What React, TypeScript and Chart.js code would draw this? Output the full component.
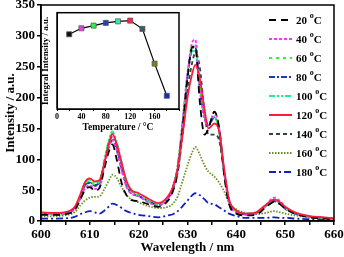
import { useEffect, useRef } from 'react';
import { Chart, registerables } from 'chart.js';
Chart.register(...registerables);

const FONT = '"Liberation Serif", "Times New Roman", serif';

const WAVELENGTH = [600, 603, 606, 607, 608, 609, 610, 611, 612, 613, 614, 614.6, 615.5, 616.5, 617.5, 618.5, 620, 622, 624, 626, 627, 628, 629, 630, 631, 631.6, 632.5, 633.5, 634.3, 635.5, 636.5, 637.5, 638.5, 640, 642, 644, 646, 647.8, 649, 650, 652, 655, 658, 660];

const S20 = [10, 10, 13, 19, 34, 50, 55, 49, 54, 86, 115, 124, 100, 62, 42, 34, 32, 27, 23, 33, 48, 80, 150, 232, 282, 283, 195, 140, 150, 177, 150, 75, 28, 12, 9, 10, 22, 31, 27, 20, 12, 6, 4, 3];
const S40 = [11, 10, 14, 20, 35, 53, 58, 52, 55, 90, 122, 132, 115, 82, 55, 44, 40, 30, 25, 36, 52, 88, 160, 240, 290, 294, 215, 165, 155, 176, 150, 80, 30, 14, 10, 12, 26, 38, 32, 23, 13, 7, 5, 4];
const S60 = [12, 11, 15, 22, 38, 60, 64, 59, 64, 98, 132, 141, 125, 92, 62, 47, 41, 32, 26, 37, 54, 90, 162, 240, 285, 286, 220, 168, 155, 170, 145, 78, 32, 15, 11, 12, 24, 34, 28, 21, 12, 7, 5, 4];
const S80 = [12, 11, 15, 22, 38, 58, 63, 58, 63, 97, 128, 136, 120, 88, 60, 46, 41, 32, 26, 37, 54, 88, 158, 235, 280, 282, 215, 168, 155, 168, 145, 78, 32, 15, 11, 12, 24, 33, 28, 21, 12, 7, 5, 4];
const S100 = [13, 12, 16, 23, 40, 62, 67, 62, 67, 100, 135, 145, 128, 96, 64, 49, 42, 33, 27, 38, 55, 90, 160, 235, 275, 276, 215, 170, 158, 168, 145, 80, 33, 16, 12, 13, 25, 34, 28, 21, 12, 7, 5, 4];
const S120 = [14, 13, 17, 24, 42, 63, 69, 64, 66, 95, 128, 141, 125, 95, 65, 50, 45, 36, 29, 40, 55, 85, 140, 200, 240, 253, 232, 180, 150, 158, 145, 85, 35, 17, 12, 14, 26, 35, 30, 23, 14, 8, 6, 4];
const S140 = [12, 11, 15, 21, 37, 57, 62, 57, 61, 93, 123, 130, 115, 85, 57, 45, 40, 32, 26, 36, 50, 80, 140, 212, 258, 272, 250, 175, 140, 140, 130, 80, 35, 16, 12, 13, 24, 32, 27, 20, 12, 7, 5, 4];
const S160 = [7, 8, 11, 15, 25, 33, 38, 39, 40, 52, 67, 75, 70, 55, 42, 35, 30, 24, 21, 23, 28, 40, 65, 90, 112, 120, 108, 90, 80, 72, 62, 48, 30, 19, 13, 11, 13, 16, 14, 12, 9, 6, 4, 3];
const S180 = [4, 4, 5, 7, 11, 14, 16, 14, 12, 17, 24, 28, 26, 21, 16, 13, 10, 8, 6, 9, 11, 16, 24, 33, 42, 45, 42, 35, 29, 27, 22, 17, 12, 8, 5, 5, 5, 6, 5, 5, 4, 3, 3, 2];

const SERIES_LABELS = ['20', '40', '60', '80', '100', '120', '140', '160', '180'];
const SERIES_VALUES = [S20, S40, S60, S80, S100, S120, S140, S160, S180];
const SERIES_COLORS = ['#000000', '#ff33ff', '#22ff22', '#1a3ac0', '#22ee88', '#ff1a3c', '#2f4050', '#6b8e23', '#1020c0'];
const SERIES_DASH = [[7, 5], [3, 2], [3, 4], [6, 2, 2, 2], [6, 2, 2, 2, 2, 2], [], [4, 3], [1.5, 1.5], [7, 3, 2, 3]];

const TEMPS = [20, 40, 60, 80, 100, 120, 140, 160, 180];
const INTEGRAL = [77.6, 83.8, 86.6, 89.4, 91.0, 91.8, 83.2, 47.1, 13.7];
const INSET_COLORS = ['#111111', '#e040e0', '#30f050', '#2040c8', '#30f0a0', '#ff2050', '#405868', '#6a8a20', '#1030c0'];

const framePlugin = {
  id: 'frame',
  afterDraw(chart: any) {
    const { ctx, chartArea } = chart;
    ctx.save();
    ctx.strokeStyle = '#000';
    ctx.lineWidth = 1.5;
    ctx.strokeRect(chartArea.left, chartArea.top, chartArea.right - chartArea.left, chartArea.bottom - chartArea.top);
    ctx.restore();
  },
};

const legendPlugin = {
  id: 'customLegend',
  afterDraw(chart: any) {
    const { ctx } = chart;
    ctx.save();
    chart.data.datasets.forEach((ds: any, i: number) => {
      const y = 20 + 19 * i;
      ctx.beginPath();
      ctx.setLineDash(ds.borderDash || []);
      ctx.strokeStyle = ds.borderColor;
      ctx.lineWidth = 2;
      ctx.moveTo(269, y);
      ctx.lineTo(292, y);
      ctx.stroke();
      ctx.setLineDash([]);
      ctx.fillStyle = '#000';
      ctx.textBaseline = 'middle';
      ctx.textAlign = 'left';
      ctx.font = `bold 11px ${FONT}`;
      const num = SERIES_LABELS[i] + ' ';
      ctx.fillText(num, 296, y + 1);
      const w = ctx.measureText(num).width;
      ctx.font = `bold 8px ${FONT}`;
      ctx.fillText('o', 296 + w, y - 4);
      const w2 = ctx.measureText('o').width;
      ctx.font = `bold 11px ${FONT}`;
      ctx.fillText('C', 296 + w + w2, y + 1);
    });
    ctx.restore();
  },
};

export default function App() {
  const mainRef = useRef<HTMLCanvasElement>(null);
  const insetRef = useRef<HTMLCanvasElement>(null);

  useEffect(() => {
    document.body.style.margin = '0';
    const tickFont = { family: FONT, size: 13, weight: 'bold' as const };
    const main = new Chart(mainRef.current as HTMLCanvasElement, {
      type: 'line',
      data: {
        datasets: SERIES_VALUES.map((vals, i) => ({
          label: SERIES_LABELS[i],
          data: WAVELENGTH.map((w, j) => ({ x: w, y: vals[j] })),
          borderColor: SERIES_COLORS[i],
          borderDash: SERIES_DASH[i],
          borderWidth: 1.8,
          pointRadius: 0,
          fill: false,
          cubicInterpolationMode: 'monotone' as const,
          order: i === 5 ? 0 : 1,
        })),
      },
      options: {
        responsive: false,
        animation: false,
        layout: { padding: { top: 5, right: 10, left: 0, bottom: 0 } },
        plugins: { legend: { display: false }, tooltip: { enabled: false } },
        scales: {
          x: {
            type: 'linear',
            min: 600,
            max: 660,
            ticks: {
              stepSize: 5,
              autoSkip: false,
              maxRotation: 0,
              padding: 2,
              color: '#000',
              font: tickFont,
              callback: (v: any) => (Number(v) % 10 === 0 ? String(v) : ''),
            },
            grid: { display: true, drawOnChartArea: false, drawTicks: true, tickLength: 4, color: '#000', lineWidth: 1.5 },
            border: { display: true, color: '#000', width: 1.5 },
            title: { display: true, text: 'Wavelength / nm', color: '#000', font: tickFont, padding: { top: 0, bottom: 2 } },
            afterFit: (s: any) => { s.height = 36; s.paddingLeft = 0; s.paddingRight = 0; },
          },
          y: {
            type: 'linear',
            min: 0,
            max: 350,
            ticks: { stepSize: 50, padding: 2, color: '#000', font: tickFont },
            grid: { display: true, drawOnChartArea: false, drawTicks: true, tickLength: 4, color: '#000', lineWidth: 1.5 },
            border: { display: true, color: '#000', width: 1.5 },
            title: { display: true, text: 'Intensity / a.u.', color: '#000', font: tickFont, padding: { top: 3, bottom: 0 } },
            afterFit: (s: any) => { s.width = 41; s.paddingTop = 0; s.paddingBottom = 0; },
          },
        },
      },
      plugins: [framePlugin, legendPlugin],
    });

    const smallFont = { family: FONT, size: 8, weight: 'bold' as const };
    const titleFont = { family: FONT, size: 9.5, weight: 'bold' as const };
    const inset = new Chart(insetRef.current as HTMLCanvasElement, {
      type: 'line',
      data: {
        datasets: [
          {
            data: TEMPS.map((t, i) => ({ x: t, y: INTEGRAL[i] })),
            borderColor: '#000',
            borderWidth: 1.2,
            pointStyle: 'rect',
            pointRadius: 3.6,
            pointBackgroundColor: INSET_COLORS,
            pointBorderColor: '#555',
            pointBorderWidth: 0.7,
            tension: 0,
          },
        ],
      },
      options: {
        responsive: false,
        animation: false,
        layout: { padding: { top: 4, right: 5, left: 0, bottom: 0 } },
        plugins: { legend: { display: false }, tooltip: { enabled: false } },
        scales: {
          x: {
            type: 'linear',
            min: 0,
            max: 200,
            ticks: {
              stepSize: 20,
              autoSkip: false,
              maxRotation: 0,
              padding: 1,
              color: '#000',
              font: smallFont,
              callback: (v: any) => (Number(v) % 40 === 0 && Number(v) < 200 ? String(v) : ''),
            },
            grid: { display: true, drawOnChartArea: false, drawTicks: true, tickLength: 2, color: '#000', lineWidth: 1 },
            border: { display: true, color: '#000', width: 1 },
            title: { display: true, text: 'Temperature / °C', color: '#000', font: titleFont, padding: { top: 0, bottom: 1 } },
            afterFit: (s: any) => { s.height = 25; s.paddingLeft = 0; s.paddingRight = 0; },
          },
          y: {
            type: 'linear',
            min: 0,
            max: 100,
            ticks: { display: false },
            grid: { display: false },
            border: { display: true, color: '#000', width: 1 },
            title: { display: true, text: 'Integral Intensity / a.u.', color: '#000', font: { family: FONT, size: 9, weight: 'bold' as const }, padding: { top: 0, bottom: 0 } },
            afterFit: (s: any) => { s.width = 17; s.paddingTop = 0; s.paddingBottom = 0; },
          },
        },
      },
      plugins: [{ ...framePlugin, id: 'insetFrame' }],
    });

    return () => {
      main.destroy();
      inset.destroy();
    };
  }, []);

  return (
    <div style={{ position: 'relative', width: 344, height: 257 }}>
      <canvas ref={mainRef} width={344} height={257} style={{ display: 'block' }} />
      <canvas ref={insetRef} width={144} height={126} style={{ position: 'absolute', left: 40, top: 8, display: 'block' }} />
    </div>
  );
}
